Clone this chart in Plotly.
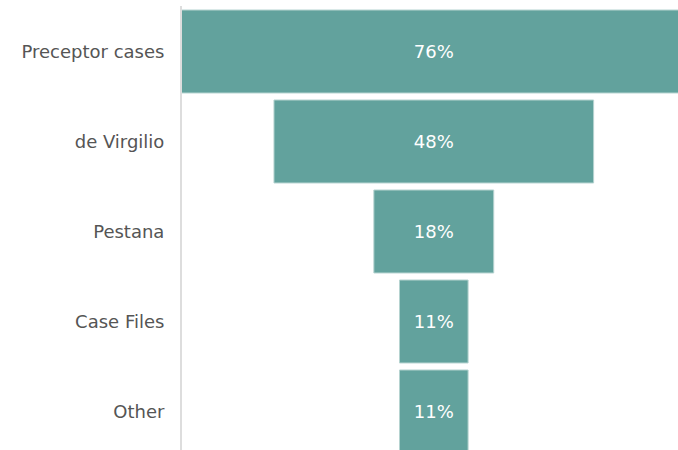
import plotly.graph_objects as go

categories = ["Preceptor cases", "de Virgilio", "Pestana", "Case Files", "Other"]
values = [76, 48, 18, 10.3, 10.3]
labels = ["76%", "48%", "18%", "11%", "11%"]

fig = go.Figure(go.Funnel(
    y=categories,
    x=values,
    text=labels,
    textinfo="text",
    textposition="inside",
    insidetextfont=dict(color="white", size=18, family="DejaVu Sans"),
    marker=dict(color="#62a29d", line=dict(color="#b5d3d0", width=1)),
    connector=dict(visible=False),
    hoverinfo="y+text",
))

fig.update_layout(
    width=678, height=450,
    margin=dict(l=182, r=0, t=6, b=0),
    paper_bgcolor="white", plot_bgcolor="white",
    funnelgap=0.078,
    showlegend=False,
    font=dict(family="DejaVu Sans", size=18, color="#555555"),
)
fig.update_xaxes(range=[-37.81, 36.67], visible=False, showgrid=False, zeroline=False)
fig.update_yaxes(
    range=[4.428, -0.5056], autorange=False,
    showline=True, linecolor="#dddddd", linewidth=2,
    showgrid=False, zeroline=False,
    ticks="outside", ticklen=12, tickcolor="rgba(0,0,0,0)",
    tickfont=dict(family="DejaVu Sans", size=18, color="#555555"),
)

fig.write_html(
    "out.html",
    config={"displayModeBar": False},
    post_script="document.body.style.margin='0';document.body.style.overflow='hidden';",
)
